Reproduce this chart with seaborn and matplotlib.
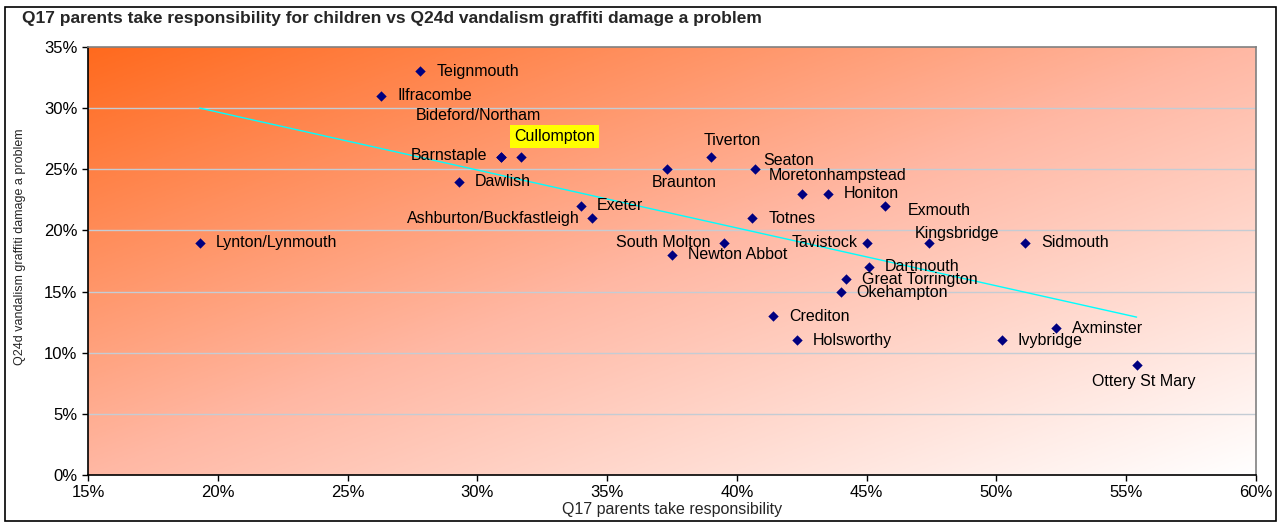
import matplotlib
matplotlib.use("Agg")
import matplotlib.pyplot as plt
import numpy as np
import pandas as pd
import seaborn as sns
from matplotlib.colors import LinearSegmentedColormap
from matplotlib.patches import Rectangle
from matplotlib.ticker import PercentFormatter


# Survey results per town (percent)
TOWNS = [
    "Teignmouth", "Ilfracombe", "Bideford/Northam", "Cullompton", "Barnstaple",
    "Dawlish", "Exeter", "Ashburton/Buckfastleigh", "Lynton/Lynmouth", "Braunton",
    "Tiverton", "Seaton", "Moretonhampstead", "Honiton", "Exmouth", "Totnes",
    "South Molton", "Newton Abbot", "Tavistock", "Kingsbridge", "Sidmouth",
    "Dartmouth", "Great Torrington", "Okehampton", "Crediton", "Holsworthy",
    "Axminster", "Ivybridge", "Ottery St Mary",
]
PARENTS_RESP = [
    27.8, 26.3, 30.9, 31.7, 30.9,
    29.3, 34.0, 34.4, 19.3, 37.3,
    39.0, 40.7, 42.5, 43.5, 45.7, 40.6,
    39.5, 37.5, 45.0, 47.4, 51.1,
    45.1, 44.2, 44.0, 41.4, 42.3,
    52.3, 50.2, 55.4,
]
VANDALISM = [
    33, 31, 26, 26, 26,
    24, 22, 21, 19, 25,
    26, 25, 23, 23, 22, 21,
    19, 18, 19, 19, 19,
    17, 16, 15, 13, 11,
    12, 11, 9,
]

# label placement relative to each marker, in pixels (dx, dy, ha)
LABEL_OFFSETS = {
    "Teignmouth": (16, 0, "left"),
    "Ilfracombe": (16, 0, "left"),
    "Bideford/Northam": (-22, 42, "center"),
    "Cullompton": (33, 21, "center"),
    "Barnstaple": (-13, 2, "right"),
    "Dawlish": (16, 0, "left"),
    "Exeter": (16, 0, "left"),
    "Ashburton/Buckfastleigh": (-12, 0, "right"),
    "Lynton/Lynmouth": (16, 0, "left"),
    "Braunton": (17, -13, "center"),
    "Tiverton": (21, 17, "center"),
    "Seaton": (8, 9, "left"),
    "Moretonhampstead": (-33, 18, "left"),
    "Honiton": (16, 0, "left"),
    "Exmouth": (23, -5, "left"),
    "Totnes": (16, 0, "left"),
    "South Molton": (-13, 0, "right"),
    "Newton Abbot": (16, 0, "left"),
    "Tavistock": (-9, 0, "right"),
    "Kingsbridge": (28, 9, "center"),
    "Sidmouth": (16, 0, "left"),
    "Dartmouth": (15, 1, "left"),
    "Great Torrington": (16, 0, "left"),
    "Okehampton": (16, -1, "left"),
    "Crediton": (16, 0, "left"),
    "Holsworthy": (16, 0, "left"),
    "Axminster": (16, 0, "left"),
    "Ivybridge": (16, 0, "left"),
    "Ottery St Mary": (7, -17, "center"),
}
HIGHLIGHT = "Cullompton"


def gradient_image(n=300):
    # diagonal fill: deep orange top-left fading to white bottom-right
    cmap = LinearSegmentedColormap.from_list(
        "fill", [(0.0, "#ff6a1e"), (0.5, "#ffb8a4"), (1.0, "#ffffff")]
    )
    u = np.linspace(0, 1, n)
    v = np.linspace(0, 1, n)
    uu, vv = np.meshgrid(u, v)
    t = (uu + vv) / 2
    return cmap(t)


def main() -> None:
    sns.set_style("white")
    plt.rcParams["font.family"] = ["Liberation Sans", "DejaVu Sans"]

    df = pd.DataFrame({"town": TOWNS, "parents": PARENTS_RESP, "vandal": VANDALISM})

    W, H = 1279, 523
    fig = plt.figure(figsize=(W / 100, H / 100), dpi=100)
    ax = fig.add_axes([88 / W, 1 - 475 / H, (1256 - 88) / W, (475 - 47) / H])

    ax.imshow(gradient_image(), extent=[0, 1, 0, 1], transform=ax.transAxes,
              aspect="auto", zorder=0, origin="upper")

    for y in range(5, 35, 5):
        ax.axhline(y, color="#c4ccd4", linewidth=1.0, zorder=1)

    # least-squares trend line over the data range
    slope, intercept = np.polyfit(df["parents"], df["vandal"], 1)
    xs = np.array([df["parents"].min(), df["parents"].max()])
    ax.plot(xs, slope * xs + intercept, color="#00ffff", linewidth=1.0, zorder=2)

    sns.scatterplot(data=df, x="parents", y="vandal", ax=ax, marker="D",
                    s=28, color="#000080", edgecolor="#000080", linewidth=0,
                    zorder=3, legend=False)

    for _, row in df.iterrows():
        dx, dy, ha = LABEL_OFFSETS[row["town"]]
        kw = {}
        if row["town"] == HIGHLIGHT:
            kw["bbox"] = dict(boxstyle="square,pad=0.25", facecolor="#ffff00",
                              edgecolor="none")
        ax.annotate(row["town"], (row["parents"], row["vandal"]),
                    xytext=(dx, dy), textcoords="offset pixels",
                    ha=ha, va="center", fontsize=11.5, color="black",
                    zorder=4, **kw)

    ax.set_xlim(15, 60)
    ax.set_ylim(0, 35)
    ax.set_xticks(range(15, 61, 5))
    ax.set_yticks(range(0, 36, 5))
    ax.xaxis.set_major_formatter(PercentFormatter(decimals=0))
    ax.yaxis.set_major_formatter(PercentFormatter(decimals=0))
    ax.tick_params(axis="both", direction="out", length=4, width=1,
                   labelsize=12, colors="black", bottom=True, left=True)
    ax.set_xlabel("Q17 parents take responsibility", fontsize=11.5, labelpad=1)
    ax.set_ylabel("")

    for side in ("left", "bottom"):
        ax.spines[side].set_color("black")
        ax.spines[side].set_linewidth(1.2)
    for side in ("top", "right"):
        ax.spines[side].set_visible(True)
        ax.spines[side].set_color("#808080")
        ax.spines[side].set_linewidth(1.2)

    fig.text(20 / W, 1 - 247 / H, "Q24d vandalism graffiti damage a problem",
             rotation=90, fontsize=9, va="center", ha="center")
    fig.text(22 / W, 1 - 18 / H,
             "Q17 parents take responsibility for children vs Q24d vandalism graffiti damage a problem",
             fontsize=12.5, fontweight="bold", va="center", ha="left")

    fig.patches.append(Rectangle((5 / W, 2 / H), (1276 - 5) / W, (516 - 2) / H,
                                 transform=fig.transFigure, fill=False,
                                 edgecolor="black", linewidth=1.2))

    fig.savefig("out.png", dpi=100)


if __name__ == "__main__":
    main()
